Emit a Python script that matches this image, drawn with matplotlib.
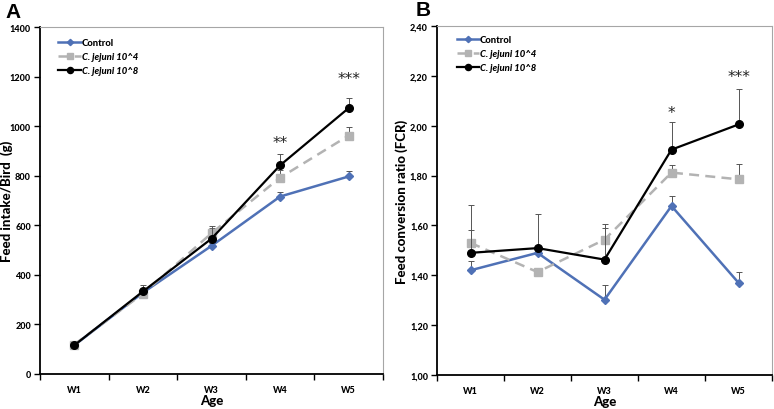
import numpy as np
import matplotlib.pyplot as plt

plt.rcParams['font.family'] = ['Lato', 'DejaVu Sans']

weeks = ['W1', 'W2', 'W3', 'W4', 'W5']
groups = ['Control', 'C. jejuni 10^4', 'C. jejuni 10^8']

# feed intake per bird (g), upper error
intake_ctrl = [116, 328, 517, 716, 797]
intake_ctrl_err = [5, 8, 10, 19, 23]
intake_c4 = [119, 324, 568, 792, 962]
intake_c4_err = [6, 10, 22, 30, 36]
intake_c8 = [116, 333, 546, 842, 1073]
intake_c8_err = [6, 28, 53, 47, 42]
intake_stars = ['', '', '', '**', '***']
intake_star_y = [0, 0, 0, 936, 1194]

# feed conversion ratio
fcr_ctrl = [1.42, 1.49, 1.302, 1.678, 1.37]
fcr_ctrl_err = [0.037, 0.01, 0.058, 0.042, 0.043]
fcr_c4 = [1.53, 1.413, 1.543, 1.812, 1.785]
fcr_c4_err = [0.15, 0.01, 0.063, 0.03, 0.062]
fcr_c8 = [1.49, 1.509, 1.463, 1.904, 2.005]
fcr_c8_err = [0.09, 0.138, 0.127, 0.109, 0.142]
fcr_stars = ['', '', '', '*', '***']
fcr_star_y = [0, 0, 0, 2.055, 2.196]

blue = '#4f71b6'
grey = '#b3b3b3'
W = 'black'  # heaviest weight available

fig = plt.figure(figsize=(7.74, 4.10), dpi=100)
axA = fig.add_axes([40/774, 35/410, 343/774, 347/410])
axB = fig.add_axes([437/774, 34/410, 335/774, 349/410])

x = np.arange(len(weeks)) + 0.5


def draw(ax, vals, errs, stars, star_y, leg_xy):
    styles = [
        dict(color=blue, marker='D', ms=4, ls='-', lw=1.8),
        dict(color=grey, marker='s', ms=5.5, ls=(0, (4, 2.5)), lw=1.8),
        dict(color='black', marker='o', ms=5.5, ls='-', lw=1.6),
    ]
    for i, (v, e) in enumerate(zip(vals, errs)):
        ax.errorbar(x, v, yerr=[np.zeros(len(e)), e], fmt='none',
                    ecolor='#555555', elinewidth=0.7, capsize=2, capthick=0.7,
                    zorder=2 + i)
        ax.plot(x, v, label=groups[i], zorder=3 + i, **styles[i])
    for xi, s, y in zip(x, stars, star_y):
        if s:
            ax.text(xi, y, s, ha='center', va='center', fontsize=11,
                    color='#222222', family='DejaVu Sans')
    ax.set_xlim(0, 5)
    ax.set_xticks(x)
    ax.set_xticklabels(weeks)
    ax.set_xticks(np.arange(6), minor=True)
    ax.tick_params(axis='x', which='major', length=0, pad=8)
    ax.tick_params(axis='x', which='minor', length=4, width=1)
    ax.tick_params(axis='y', length=4, width=1, pad=2.5)
    for lab in ax.get_xticklabels() + ax.get_yticklabels():
        lab.set_fontweight(W)
        lab.set_fontsize(6.5)
    for s in ['left', 'bottom']:
        ax.spines[s].set_linewidth(1.3)
    for s in ['top', 'right']:
        ax.spines[s].set_color('#a6a6a6')
        ax.spines[s].set_linewidth(0.8)
    ax.set_xlabel('Age', fontsize=9.5, fontweight=W, labelpad=0)
    leg = ax.legend(loc='upper left', bbox_to_anchor=leg_xy,
                    frameon=False, handlelength=2.4, labelspacing=0.55,
                    handletextpad=0.05, borderpad=0, markerscale=0.8,
                    prop=dict(size=6.8, weight=W))
    for t in leg.get_texts()[1:]:
        t.set_fontstyle('italic')


draw(axA, [intake_ctrl, intake_c4, intake_c8],
     [intake_ctrl_err, intake_c4_err, intake_c8_err], intake_stars,
     intake_star_y, (0.04, 0.982))
axA.set_ylim(0, 1400)
axA.set_yticks(np.arange(0, 1401, 200))
for lab in axA.get_yticklabels():
    lab.set_fontweight(W)
    lab.set_fontsize(6.5)
axA.set_ylabel('Feed intake/Bird  (g)', fontsize=9.5, fontweight=W)
axA.yaxis.set_label_coords(-0.079, 0.5)

draw(axB, [fcr_ctrl, fcr_c4, fcr_c8],
     [fcr_ctrl_err, fcr_c4_err, fcr_c8_err], fcr_stars, fcr_star_y,
     (0.045, 0.988))
axB.set_ylim(1.0, 2.4)
ticks = np.arange(1.0, 2.41, 0.2)
axB.set_yticks(ticks)
axB.set_yticklabels([f'{t:.2f}'.replace('.', ',') for t in ticks],
                    fontweight=W, fontsize=6.5)
axB.set_ylabel('Feed conversion ratio (FCR)', fontsize=9.5, fontweight=W)
axB.yaxis.set_label_coords(-0.087, 0.5)

fig.text(13/774, 1 - 12/410, 'A', fontsize=15, fontweight='bold',
         ha='center', va='center', family='Liberation Sans')
fig.text(423/774, 1 - 10/410, 'B', fontsize=15, fontweight='bold',
         ha='center', va='center', family='Liberation Sans')

fig.savefig('out.png', dpi=100)
